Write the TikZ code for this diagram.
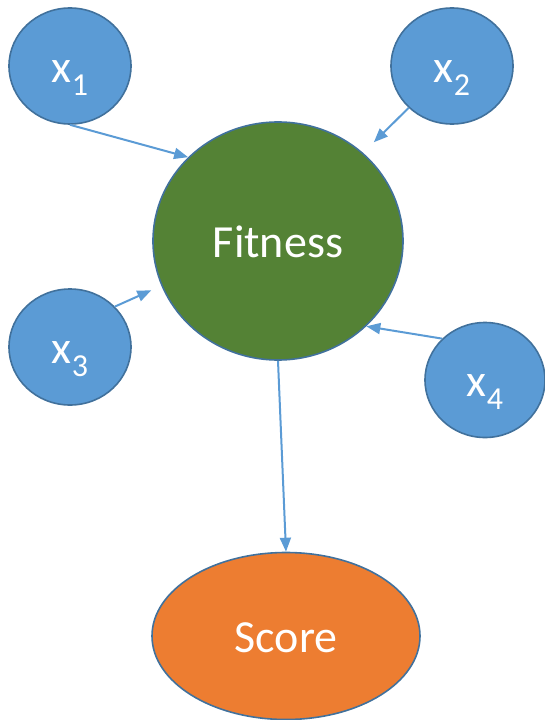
\documentclass[tikz,border=0pt]{standalone}
\usepackage{fontspec}
\setmainfont{Carlito}
\usetikzlibrary{arrows.meta,shapes.geometric}
\definecolor{inputblue}{RGB}{91,155,213}
\definecolor{rimblue}{RGB}{65,113,156}
\definecolor{fitgreen}{RGB}{84,130,53}
\definecolor{scoreorange}{RGB}{237,125,49}

\newcommand{\xsub}[1]{x\raisebox{-13pt}{\fontsize{32}{32}\selectfont #1}}

\begin{document}
\begin{tikzpicture}[x=1pt,y=-1pt,>={Triangle[length=14pt,width=11pt]},
  blob/.style={ellipse,draw=rimblue,line width=1.6pt,inner sep=0pt,
    text=white,font=\fontsize{46}{50}\selectfont,text height=32pt,text depth=0pt},
  inputnode/.style={blob,fill=inputblue,minimum width=122pt,minimum height=116pt},
  link/.style={->,draw=inputblue,line width=2pt}]

\useasboundingbox (0,0) rectangle (544,720);

%% ── inputs ──────────────────────────────────────────────────────────────────
\node[inputnode] (x1) at (70,66)  {\xsub{1}};
\node[inputnode] (x2) at (452,66) {\xsub{2}};
\node[inputnode] (x3) at (70,347) {\xsub{3}};
\node[inputnode,minimum width=120pt,minimum height=115pt] (x4) at (485,380) {\xsub{4}};

%% ── fitness and score ───────────────────────────────────────────────────────
\node[blob,fill=fitgreen,minimum width=250pt,minimum height=238pt]
  (fitness) at (278,241) {Fitness};
\node[blob,fill=scoreorange,minimum width=268pt,minimum height=167pt]
  (score) at (286,636) {Score};

%% ── arrows ──────────────────────────────────────────────────────────────────
\draw[link] (x1.south) -- (fitness.137);
\draw[link,shorten >=15pt] (x2.224) -- (fitness.46);
\draw[link,shorten >=11pt] (x3.42) -- (fitness.201);
\draw[link] (x4.136) -- (fitness.316);
\draw[link] (fitness.south) -- (score.north);

\end{tikzpicture}
\end{document}
